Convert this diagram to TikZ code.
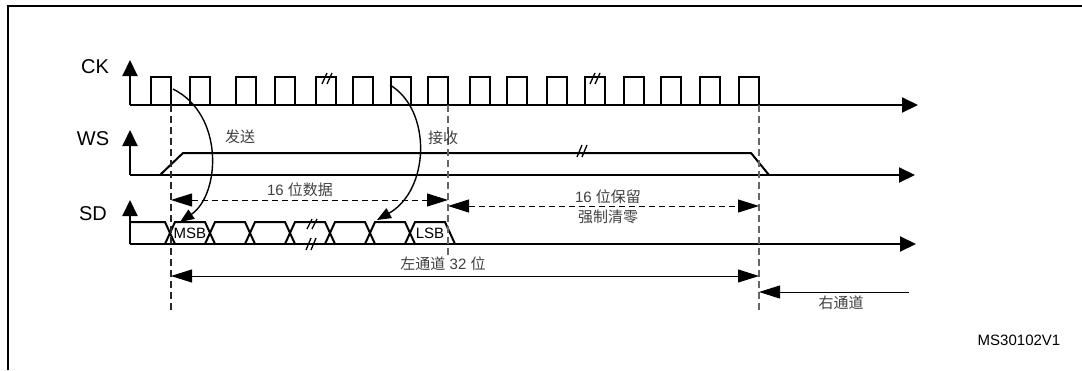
\documentclass[tikz,border=0pt]{standalone}
\usepackage{fontspec}
\setmainfont{Liberation Sans}
\newfontfamily\cjk{Noto Sans CJK SC}
\usetikzlibrary{arrows.meta}

\begin{document}
\begin{tikzpicture}[x=1pt, y=-1pt, line join=miter,
  sig/.style={line width=2pt},
  axis/.style={line width=2pt, -{Triangle[length=16pt,width=15pt]}},
  guide/.style={line width=1.1pt, black!60, dash pattern=on 7pt off 4pt},
  dim/.style={line width=1pt, {Triangle[length=21pt,width=13pt]}-{Triangle[length=21pt,width=13pt]}},
  halfdim/.style={line width=1pt, -{Triangle[length=21pt,width=13pt]}},
  dashdim/.style={dim, dash pattern=on 6pt off 4pt},
  hop/.style={line width=1.4pt, -{Triangle[length=14pt,width=11pt]}},
  brk/.style={line width=1.3pt},
  siglabel/.style={font=\fontsize{20}{20}\selectfont, inner sep=0pt},
  zh/.style={font=\fontsize{15}{17}\selectfont, text=black!75, inner sep=0pt},
  bit/.style={font=\fontsize{15}{15}\selectfont, inner sep=0pt}]
  \useasboundingbox (0,0) rectangle (1082,370);

  % frame
  \draw[line width=2pt] (8,370) -- (8,6) -- (1082,6);

  % axes
  \draw[axis] (130,105) -- (130,60);
  \draw[axis] (130,105) -- (918,105);
  \draw[axis] (130,175) -- (130,130);
  \draw[axis] (130,175) -- (915,175);
  \draw[axis] (130,244) -- (130,200);
  \draw[axis] (130,244) -- (916,244);
  \node[siglabel] (ck) at (95,67) {CK};
  \node[siglabel] (ws) at (93,139) {WS};
  \node[siglabel] (sd) at (93,214) {SD};

  % CK pulses
  \draw[sig] (151,105) |- (171,77) -- (171,105);
  \draw[sig] (190,105) |- (210,77) -- (210,105);
  \draw[sig] (236,105) |- (256,77) -- (256,105);
  \draw[sig] (275,105) |- (295,77) -- (295,105);
  \draw[sig] (316,105) |- (336,77) -- (336,105);
  \draw[sig] (353,105) |- (373,77) -- (373,105);
  \draw[sig] (391,105) |- (411,77) -- (411,105);
  \draw[sig] (428,105) |- (448,77) -- (448,105);
  \draw[sig] (470,105) |- (490,77) -- (490,105);
  \draw[sig] (507,105) |- (527,77) -- (527,105);
  \draw[sig] (547,105) |- (567,77) -- (567,105);
  \draw[sig] (585,105) |- (605,77) -- (605,105);
  \draw[sig] (624,105) |- (644,77) -- (644,105);
  \draw[sig] (661,105) |- (681,77) -- (681,105);
  \draw[sig] (700,105) |- (720,77) -- (720,105);
  \draw[sig] (739,105) |- (759,77) -- (759,105);
  \draw[brk] (322,84) -- (327,73) (327,84) -- (332,73);
  \draw[brk] (590,84) -- (595,73) (595,84) -- (600,73);

  % WS
  \draw[sig] (160,175) -- (183,153) -- (751,153) -- (769,175);
  \draw[brk] (577,157) -- (582,145) (582,157) -- (587,145);

  % SD bus
  \draw[sig] (130,222) -- (165,222) -- (175,244);
  \draw[sig] (165,244) -- (175,222) -- (205,222) -- (215,244);
  \draw[sig] (205,244) -- (215,222) -- (245,222) -- (255,244);
  \draw[sig] (245,244) -- (255,222) -- (285,222) -- (295,244);
  \draw[sig] (285,244) -- (295,222) -- (325,222) -- (335,244);
  \draw[sig] (325,244) -- (335,222) -- (365,222) -- (375,244);
  \draw[sig] (365,244) -- (375,222) -- (405,222) -- (415,244);
  \draw[sig] (405,244) -- (415,222) -- (445,222) -- (455,244);
  \draw[brk] (307,229) -- (312,219) (312,229) -- (317,219);
  \draw[brk] (306,250) -- (311,238) (311,250) -- (316,238);
  \node[bit] (msb) at (190,233) {MSB};
  \node[bit] (lsb) at (430,233) {LSB};

  % guides
  \coordinate (g1t) at (171,105);
  \coordinate (g1b) at (171,310);
  \coordinate (g2t) at (448,105);
  \coordinate (g2b) at (448,256);
  \coordinate (g3t) at (759,105);
  \coordinate (g3b) at (759,310);
  \draw[guide, black!85] (g1t) -- (g1b);
  \draw[guide] (g2t) -- (g2b);
  \draw[guide] (g3t) -- (g3b);

  % send / receive
  \coordinate (txs) at (173,89);
  \coordinate (txe) at (180,222);
  \coordinate (rxs) at (390,85);
  \coordinate (rxe) at (377,220);
  \draw[hop] (txs) .. controls (225,115) and (220,195) .. (txe);
  \draw[hop] (rxs) .. controls (432,110) and (430,190) .. (rxe);
  \node[zh] (lbltx) at (240,137) {\cjk 发送};
  \node[zh] (lblrx) at (443,138) {\cjk 接收};

  % dimensions
  \coordinate (d1a) at (171,200);
  \coordinate (d1b) at (448,200);
  \coordinate (d2a) at (448,206);
  \coordinate (d2b) at (759,206);
  \coordinate (d3a) at (171,276);
  \coordinate (d3b) at (759,276);
  \coordinate (d4a) at (909,292);
  \coordinate (d4b) at (759,292);
  \draw[dashdim] (d1a) -- (d1b);
  \draw[dashdim] (d2a) -- (d2b);
  \draw[dim] (d3a) -- (d3b);
  \draw[halfdim] (d4a) -- (d4b);
  \node[zh] (lbldata) at (300,190) {16 {\cjk 位数据}};
  \node[zh] (lblpad) at (608,197) {16 {\cjk 位保留}};
  \node[zh] (lblzero) at (608,217) {\cjk 强制清零};
  \node[zh] (lblleft) at (443,264) {{\cjk 左通道} 32 {\cjk 位}};
  \node[zh] (lblright) at (841,303) {\cjk 右通道};

  \node[bit] (fig) at (1019,340) {MS30102V1};
\end{tikzpicture}
\end{document}
